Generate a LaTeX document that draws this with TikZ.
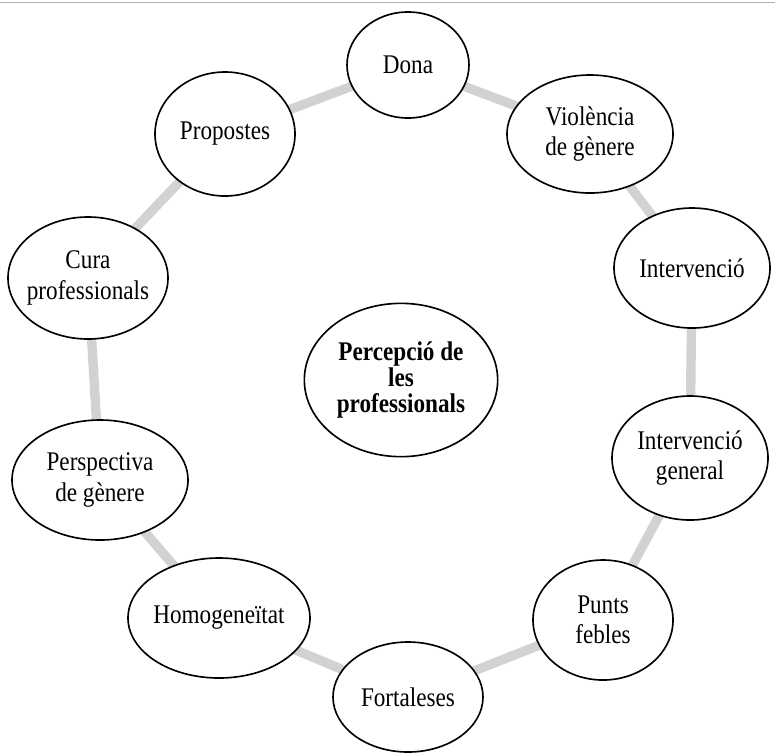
\documentclass[tikz,border=0pt]{standalone}
\usepackage{fontspec}
\setmainfont[FakeStretch=0.86]{Liberation Serif}
\usetikzlibrary{shapes,positioning,backgrounds}

\begin{document}
\begin{tikzpicture}[every node/.style={outer sep=0pt,thick}]
\tikzstyle{tema}=[draw,ellipse,line width=1.4pt,fill=white,align=center,
inner sep=-8pt,font=\fontsize{23}{26}\selectfont]
\tikzstyle{enllac}=[line width=8pt,color=gray!35]
\useasboundingbox (0,0) rectangle (23.25,-22.56);
\draw [gray!60,line width=0.6pt] (0,-0.06) -- (23.25,-0.06);
%
\node (percep) [tema,minimum width=5.8cm,minimum height=4.6cm,
font=\bfseries\fontsize{23}{22}\selectfont] at (12.03,-11.4)
{Percepció de\\les\\professionals};
%
\node (dona) [tema,minimum width=3.66cm,minimum height=3.18cm] at (12.24,-1.95) {Dona};
\node (viol) [tema,minimum width=4.98cm,minimum height=3.54cm] at (17.7,-4.02) {Violència\\de gènere};
\node (interv) [tema,minimum width=4.68cm,minimum height=3.6cm] at (20.76,-8.04) {Intervenció};
\node (intgen) [tema,minimum width=4.68cm,minimum height=3.72cm] at (20.7,-13.74) {Intervenció\\general};
\node (punts) [tema,minimum width=4.2cm,minimum height=3.6cm] at (18.09,-18.6) {Punts\\febles};
\node (fort) [tema,minimum width=4.5cm,minimum height=3.3cm] at (12.24,-20.91) {Fortaleses};
\node (homog) [tema,minimum width=5.46cm,minimum height=3.6cm] at (6.57,-18.54) {Homogeneïtat};
\node (persp) [tema,minimum width=5.28cm,minimum height=3.6cm] at (3.0,-14.4) {Perspectiva\\de gènere};
\node (cura) [tema,minimum width=4.8cm,minimum height=3.66cm] at (2.64,-8.34) {Cura\\professionals};
\node (prop) [tema,minimum width=4.2cm,minimum height=3.72cm] at (6.75,-4.02) {Propostes};
%
\begin{scope}[on background layer]
\foreach \a/\b in {dona/viol,viol/interv,interv/intgen,intgen/punts,punts/fort,
fort/homog,homog/persp,persp/cura,cura/prop,prop/dona}
\draw [enllac] (\a.center) -- (\b.center);
\end{scope}
%
\end{tikzpicture}
\end{document}
